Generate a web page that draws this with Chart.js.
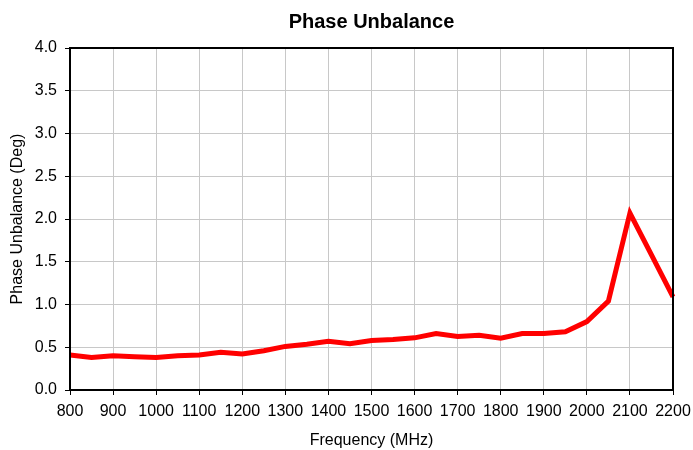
<!DOCTYPE html>
<html>
<head>
<meta charset="utf-8">
<script src="https://cdn.jsdelivr.net/npm/chart.js@4.4.1/dist/chart.umd.min.js"></script>
<style>
  html, body { margin: 0; padding: 0; background: #fff; }
  #wrap { width: 693px; height: 450px; }
</style>
</head>
<body>
<div id="wrap"><canvas id="chart" width="693" height="450"></canvas></div>
<script>
// Frequency (MHz) and phase unbalance (deg)
const freqs = [800, 850, 900, 950, 1000, 1050, 1100, 1150, 1200, 1250, 1300, 1350, 1400, 1450, 1500,
  1550, 1600, 1650, 1700, 1750, 1800, 1850, 1900, 1950, 2000, 2050, 2100, 2150, 2200];
const phaseUnbalance = [0.41, 0.38, 0.40, 0.39, 0.38, 0.40, 0.41, 0.44, 0.42, 0.46, 0.51, 0.535, 0.57, 0.54, 0.58,
  0.59, 0.61, 0.66, 0.625, 0.64, 0.605, 0.66, 0.66, 0.68, 0.80, 1.04, 2.07, 1.58, 1.09];
const chartTitle = 'Phase Unbalance';

const font = 'Arial, "Liberation Sans", sans-serif';

// black frame around the plot area + title centred over the plot
const frame = {
  id: 'frame',
  afterDraw(chart) {
    const { ctx, chartArea: a } = chart;
    ctx.save();
    ctx.strokeStyle = '#000';
    ctx.lineWidth = 2;
    ctx.strokeRect(a.left, a.top, a.right - a.left, a.bottom - a.top);
    ctx.fillStyle = '#000';
    ctx.font = 'bold 20px ' + font;
    ctx.textAlign = 'center';
    ctx.textBaseline = 'middle';
    ctx.fillText(chartTitle, (a.left + a.right) / 2, 22);
    ctx.restore();
  }
};

new Chart(document.getElementById('chart').getContext('2d'), {
  type: 'line',
  data: {
    datasets: [{
      label: 'Phase Unbalance',
      data: freqs.map((f, i) => ({ x: f, y: phaseUnbalance[i] })),
      borderColor: '#ff0000',
      borderWidth: 5,
      pointRadius: 0,
      tension: 0,
      clip: false
    }]
  },
  options: {
    responsive: false,
    animation: false,
    layout: { padding: { top: 48, right: 20, left: 0, bottom: 0 } },
    plugins: {
      legend: { display: false },
      tooltip: { enabled: false },
      title: { display: false }
    },
    scales: {
      x: {
        type: 'linear',
        min: 800,
        max: 2200,
        ticks: { stepSize: 100, color: '#000', font: { family: font, size: 16 }, maxRotation: 0, padding: 7,
          callback: v => String(v) },
        grid: { color: '#c8c8c8', lineWidth: 1, tickColor: '#000', tickLength: 5, drawTicks: true },
        border: { display: false },
        title: { display: true, text: 'Frequency (MHz)', color: '#000', font: { family: font, size: 16 }, padding: { top: 4, bottom: 0 } },
        afterFit: s => { s.height = 60; s.paddingLeft = 0; s.paddingRight = 0; }
      },
      y: {
        min: 0,
        max: 4,
        ticks: { stepSize: 0.5, color: '#000', font: { family: font, size: 16 }, padding: 8,
          callback: v => v.toFixed(1) },
        grid: { color: '#c8c8c8', lineWidth: 1, tickColor: '#000', tickLength: 5 },
        border: { display: false },
        title: { display: true, text: 'Phase Unbalance (Deg)', color: '#000', font: { family: font, size: 16 }, padding: { top: 8, bottom: 4 } },
        afterFit: s => { s.width = 70; s.paddingTop = 0; s.paddingBottom = 0; }
      }
    }
  },
  plugins: [frame]
});
</script>
</body>
</html>
